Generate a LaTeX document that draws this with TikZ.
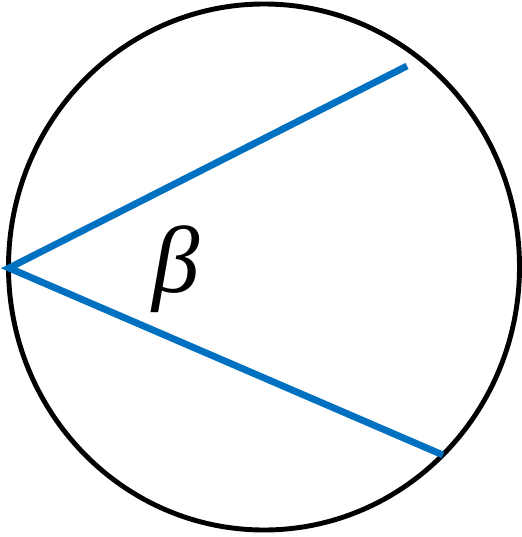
\documentclass[tikz,border=0pt]{standalone}
\usepackage{fontspec}
\setmainfont{Liberation Serif}
\usepackage{tikz}
\usetikzlibrary{positioning}
\definecolor{blue}{RGB}{0,112,192}

\begin{document}
\begin{tikzpicture}[
    x=0.02cm, y=-0.02cm,
    rim/.style={draw=black, line width=2.8pt},
    chord/.style={draw=blue, line width=3.9pt},
]
    \useasboundingbox (0,0) rectangle (521,537);

    \draw[rim] (264,267) ellipse [x radius=255.5, y radius=263];

    \coordinate (p) at (9,268);
    \coordinate (a) at (407,66);
    \coordinate (b) at (443,455);

    \draw[chord] (a) -- (p) -- (b);

    \node[inner sep=0pt, font=\fontsize{54}{60}\selectfont\itshape] (beta) at (176,269) {β};
\end{tikzpicture}
\end{document}
